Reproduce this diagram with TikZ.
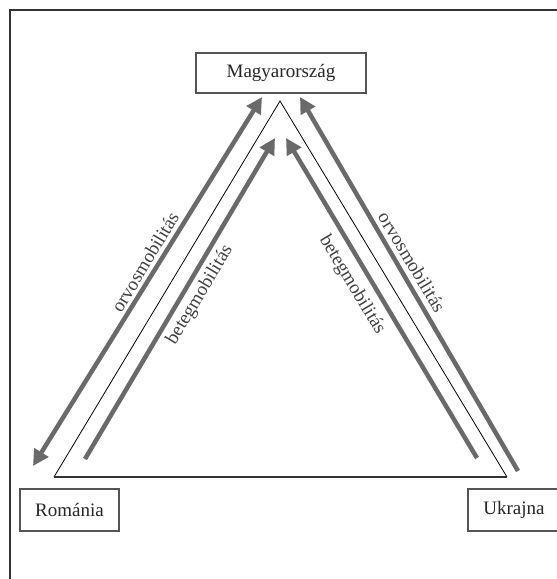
\documentclass[tikz,border=0pt]{standalone}
\usepackage{fontspec}
\setmainfont{Liberation Serif}
\usetikzlibrary{arrows.meta}
\definecolor{arrgray}{HTML}{6A6A6A}
\definecolor{boxgray}{HTML}{555555}
\definecolor{framegray}{HTML}{333333}
\begin{document}
\begin{tikzpicture}[x=1pt,y=-1pt,
  country/.style={draw=boxgray,line width=1.3pt,fill=white,inner sep=0pt,font=\fontsize{19}{22}\selectfont,text=black!85},
  flow/.style={draw=arrgray,line width=4.5pt,-{Triangle[length=16pt,width=16pt]}},
  flowlabel/.style={font=\fontsize{19}{22}\selectfont,text=black!75,inner sep=1pt},
  tri/.style={draw=black,line width=0.8pt}]
\useasboundingbox (0,0) rectangle (557,579);
\fill[white] (0,0) rectangle (557,579);
\draw[framegray,line width=1.3pt] (10,579) -- (10,10) -- (557,10);
% countries
\node[country,minimum width=170pt,minimum height=40pt] (hu) at (281,73) {Magyarország};
\node[country,minimum width=99pt,minimum height=42pt] (ro) at (69.5,510) {Románia};
\node[country,minimum width=92pt,minimum height=42pt] (ua) at (514,510) {Ukrajna};
% triangle
\coordinate (apex) at (280,101);
\coordinate (bl) at (54,477);
\coordinate (br) at (507,477);
\draw[tri] (bl) -- (apex) -- (br);
\draw[tri,line width=1.3pt,draw=black!80] (bl) -- (br);
% arrow endpoints
\coordinate (lo1) at (33,466);
\coordinate (lo2) at (262,97);
\coordinate (li1) at (85,459);
\coordinate (li2) at (275,138);
\coordinate (ri1) at (477,458);
\coordinate (ri2) at (286,138);
\coordinate (ro1) at (518,471);
\coordinate (ro2) at (300,97);
\draw[flow,{Triangle[length=16pt,width=16pt]}-{Triangle[length=16pt,width=16pt]}] (lo1) -- (lo2);
\draw[flow] (li1) -- (li2);
\draw[flow] (ri1) -- (ri2);
\draw[flow] (ro1) -- (ro2);
% labels
\node[flowlabel,rotate=59] (l1) at (145,262) {orvosmobilitás};
\node[flowlabel,rotate=59] (l2) at (200,295) {betegmobilitás};
\node[flowlabel,rotate=-59] (l3) at (352,285) {betegmobilitás};
\node[flowlabel,rotate=-59] (l4) at (412,262) {orvosmobilitás};
\end{tikzpicture}
\end{document}
